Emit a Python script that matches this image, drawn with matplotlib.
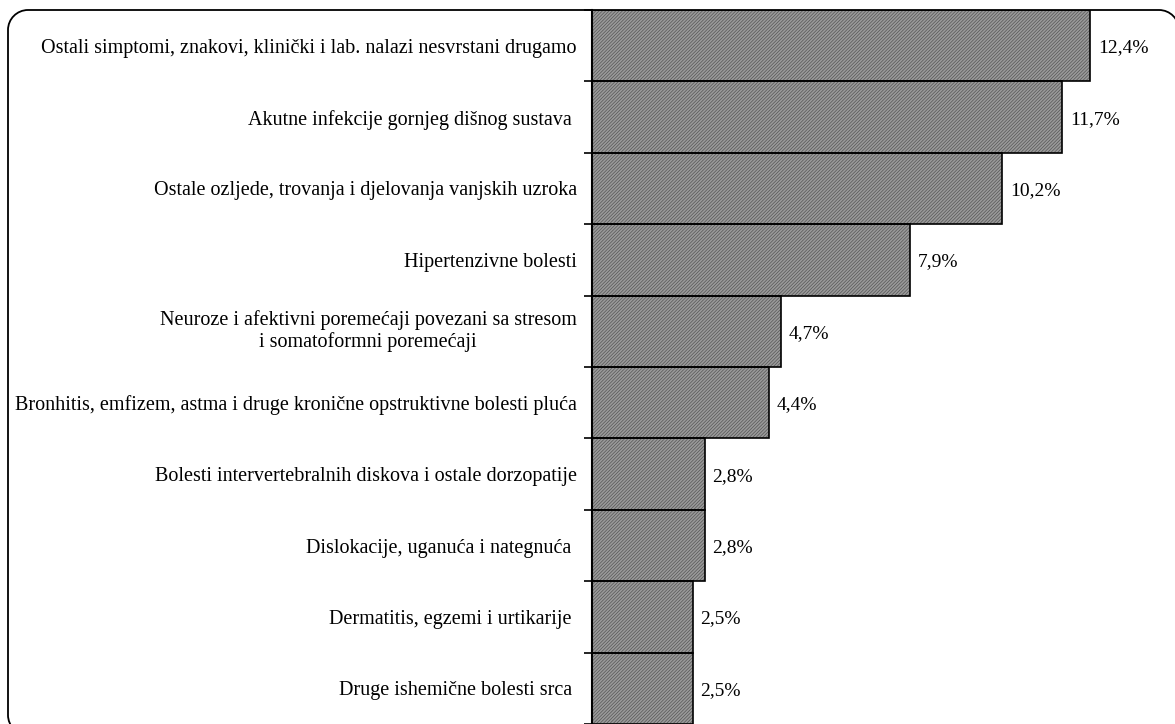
import matplotlib
matplotlib.use('Agg')
import matplotlib.pyplot as plt
from matplotlib.patches import PathPatch
from matplotlib.path import Path
from matplotlib.transforms import IdentityTransform
import numpy as np

plt.rcParams['font.family'] = ['Liberation Serif', 'DejaVu Serif']
plt.rcParams['hatch.linewidth'] = 0.5

# Data
categories = [
    'Ostali simptomi, znakovi, klinički i lab. nalazi nesvrstani drugamo',
    'Akutne infekcije gornjeg dišnog sustava ',
    'Ostale ozljede, trovanja i djelovanja vanjskih uzroka',
    'Hipertenzivne bolesti',
    'Neuroze i afektivni poremećaji povezani sa stresom\ni somatoformni poremećaji',
    'Bronhitis, emfizem, astma i druge kronične opstruktivne bolesti pluća',
    'Bolesti intervertebralnih diskova i ostale dorzopatije',
    'Dislokacije, uganuća i nategnuća ',
    'Dermatitis, egzemi i urtikarije ',
    'Druge ishemične bolesti srca ',
]
values = [12.4, 11.7, 10.2, 7.9, 4.7, 4.4, 2.8, 2.8, 2.5, 2.5]
value_labels = ['12,4%', '11,7%', '10,2%', '7,9%', '4,7%', '4,4%', '2,8%', '2,8%', '2,5%', '2,5%']

W, H = 1175, 724
fig = plt.figure(figsize=(W / 100, H / 100), dpi=100)

# rounded frame (pixel coords, y measured from the top); right/bottom run off the image
left, top, right, bottom, r = 8, 10, 1179, 735, 20
k = 0.5523 * r
pts = [
    (right, bottom - r), (right, top + r),
    (right, top + r - k), (right - r + k, top), (right - r, top),
    (left + r, top),
    (left + r - k, top), (left, top + r - k), (left, top + r),
    (left, bottom - r),
    (left, bottom - r + k), (left + r - k, bottom), (left + r, bottom),
]
codes = [Path.MOVETO, Path.LINETO, Path.CURVE4, Path.CURVE4, Path.CURVE4,
         Path.LINETO, Path.CURVE4, Path.CURVE4, Path.CURVE4,
         Path.LINETO, Path.CURVE4, Path.CURVE4, Path.CURVE4]
frame = PathPatch(Path([(px, H - py) for px, py in pts], codes),
                  transform=IdentityTransform(), facecolor='none',
                  edgecolor='black', linewidth=1.3)
fig.patches.append(frame)

ax = fig.add_axes([592 / W, 0, (1175 - 592) / W, (H - 10) / H])
ax.patch.set_alpha(0)

y = np.arange(len(values))
# fine hatched fill, then black outlines on top
ax.barh(y, values, height=1.0, color='#9a9a9a', edgecolor='#555555',
        linewidth=0, hatch='//////////')
ax.barh(y, values, height=1.0, color='none', edgecolor='black', linewidth=1.2)

ax.set_xlim(0, (1175 - 592) / 40.2)
ax.set_ylim(-0.5 + 714 / 71.8, -0.5)

for yi, v, lab in zip(y, values, value_labels):
    ax.text(v + 0.2, yi, lab, va='center_baseline', ha='left', fontsize=14)

ax.set_yticks(y)
ax.set_yticklabels(categories, fontsize=14.5)
for t in ax.get_yticklabels():
    t.set_multialignment('center')
    t.set_linespacing(1.15)
    if '\n' in t.get_text():
        t.set_verticalalignment('center')
ax.tick_params(axis='y', which='major', length=0, pad=11)
ax.set_yticks(np.arange(len(values) + 1) - 0.5, minor=True)
ax.tick_params(axis='y', which='minor', length=6, width=1.2)

ax.set_xticks([])
for s in ['top', 'right', 'bottom']:
    ax.spines[s].set_visible(False)
ax.spines['left'].set_linewidth(1.5)

fig.savefig('out.png', dpi=100)
